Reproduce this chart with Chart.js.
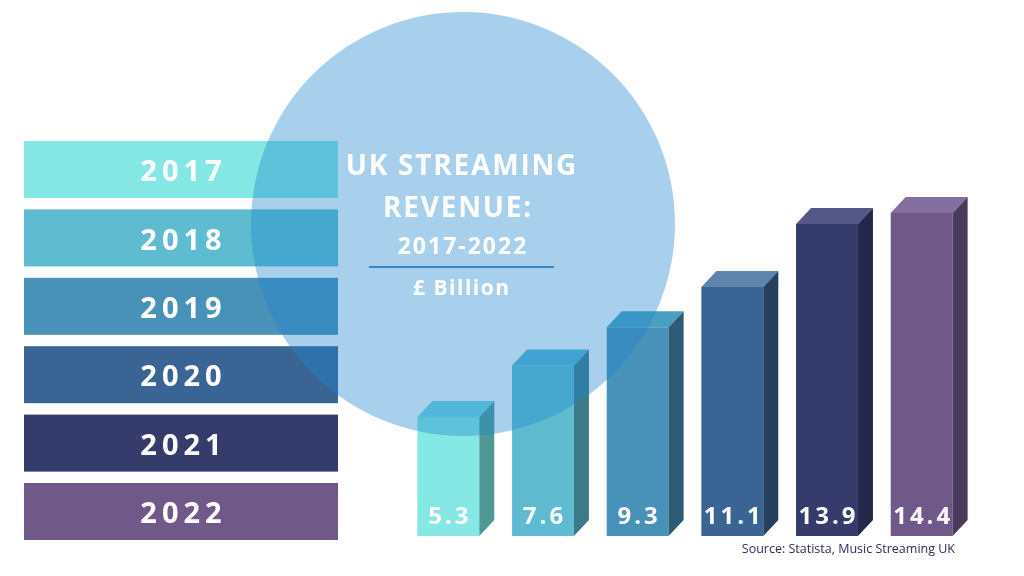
<!DOCTYPE html>
<html>
<head>
<meta charset="utf-8">
<script src="https://cdn.jsdelivr.net/npm/chart.js@4.4.1/dist/chart.umd.min.js"></script>
<style>
  html, body { margin: 0; padding: 0; background: #fff; }
  canvas { display: block; }
</style>
</head>
<body>
<canvas id="grafico" width="1024" height="576"></canvas>
<script>
// data
const years = ['2017', '2018', '2019', '2020', '2021', '2022'];
const revenue = [5.3, 7.6, 9.3, 11.1, 13.9, 14.4];
const titleLines = ['UK STREAMING', 'REVENUE:'];
const subtitle = '2017-2022';
const unitLabel = '£ Billion';
const sourceNote = 'Source: Statista, Music Streaming UK';

// colours
const frontColors = ['#86e8e4', '#5fbcd0', '#4891b8', '#3a6494', '#353b6b', '#705888'];
const sideColors = ['#4f9896', '#3c7a88', '#2e5b75', '#253f5e', '#23284a', '#4a3a5c'];
const topColors = ['#6fd8e2', '#55b6d4', '#4aa0c0', '#6085ad', '#555887', '#826ea0'];

const FONT = '"Open Sans", "DejaVu Sans", sans-serif';

function spacedText(ctx, text, x, y, spacing) {
  ctx.letterSpacing = spacing + 'px';
  ctx.fillText(text, x + spacing / 2, y);
  ctx.letterSpacing = '0px';
}

const decoPlugin = {
  id: 'deco',
  beforeDraw(chart) {
    const ctx = chart.ctx;
    ctx.save();
    ctx.fillStyle = '#ffffff';
    ctx.fillRect(0, 0, chart.width, chart.height);

    // year boxes on the left
    chart.data.labels.forEach((lab, i) => {
      const top = 141 + i * 68.4;
      ctx.fillStyle = frontColors[i];
      ctx.fillRect(24, top, 314, 57);
      ctx.fillStyle = '#ffffff';
      ctx.font = 'bold 29px ' + FONT;
      ctx.textAlign = 'center';
      ctx.textBaseline = 'middle';
      spacedText(ctx, lab, 181, top + 32, 5);
    });
    ctx.restore();
  },
  afterDatasetsDraw(chart) {
    const ctx = chart.ctx;
    const meta = chart.getDatasetMeta(0);
    const dx = 15, dy = 16;
    ctx.save();

    // 3d faces of the bars
    meta.data.forEach((bar, i) => {
      const p = bar.getProps(['x', 'y', 'base', 'width'], true);
      const l = p.x - p.width / 2, r = p.x + p.width / 2;
      ctx.fillStyle = topColors[i];
      ctx.beginPath();
      ctx.moveTo(l, p.y);
      ctx.lineTo(l + dx, p.y - dy);
      ctx.lineTo(r + dx, p.y - dy);
      ctx.lineTo(r, p.y);
      ctx.closePath();
      ctx.fill();
      ctx.fillStyle = sideColors[i];
      ctx.beginPath();
      ctx.moveTo(r, p.y);
      ctx.lineTo(r + dx, p.y - dy);
      ctx.lineTo(r + dx, p.base - dy);
      ctx.lineTo(r, p.base);
      ctx.closePath();
      ctx.fill();
    });

    // big translucent circle
    ctx.fillStyle = 'rgba(32, 135, 206, 0.39)';
    ctx.beginPath();
    ctx.arc(463, 224, 212, 0, Math.PI * 2);
    ctx.fill();

    // title
    ctx.fillStyle = '#ffffff';
    ctx.textAlign = 'center';
    ctx.textBaseline = 'middle';
    ctx.font = 'bold 28px ' + FONT;
    spacedText(ctx, titleLines[0], 461, 167, 1.8);
    spacedText(ctx, titleLines[1], 457, 209, 1.8);
    ctx.font = 'bold 23px ' + FONT;
    spacedText(ctx, subtitle, 462, 247, 2);
    ctx.strokeStyle = '#3a88be';
    ctx.lineWidth = 2;
    ctx.beginPath();
    ctx.moveTo(369, 267);
    ctx.lineTo(554, 267);
    ctx.stroke();
    ctx.font = 'bold 21px ' + FONT;
    spacedText(ctx, unitLabel, 461, 289, 1.5);

    // values on the bars
    ctx.font = 'bold 24px ' + FONT;
    meta.data.forEach((bar, i) => {
      spacedText(ctx, revenue[i].toFixed(1), bar.x, 517, 3);
    });

    // source
    ctx.fillStyle = '#2b2f55';
    ctx.font = '12.5px ' + FONT;
    ctx.textAlign = 'right';
    ctx.fillText(sourceNote, 955, 549);
    ctx.restore();
  }
};

const ctx = document.getElementById('grafico').getContext('2d');
new Chart(ctx, {
  type: 'bar',
  data: {
    labels: years,
    datasets: [{
      data: revenue,
      backgroundColor: frontColors,
      borderWidth: 0,
      categoryPercentage: 1,
      barPercentage: 0.654
    }]
  },
  options: {
    responsive: false,
    animation: false,
    layout: { padding: { left: 401, right: 55, top: 177, bottom: 40 } },
    scales: {
      x: { display: false },
      y: { display: false, min: 0, max: 16 }
    },
    plugins: {
      legend: { display: false },
      tooltip: { enabled: false }
    }
  },
  plugins: [decoPlugin]
});
</script>
</body>
</html>
